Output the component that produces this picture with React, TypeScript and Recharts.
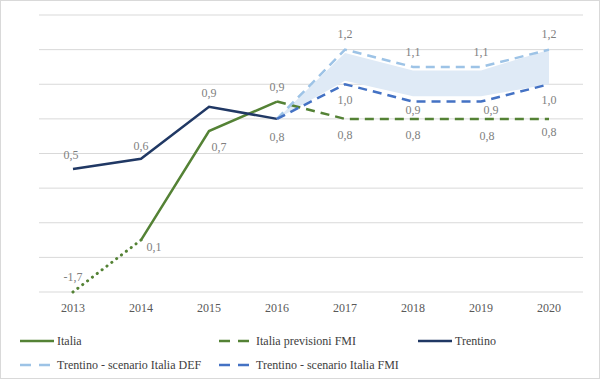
import React from 'react';
import { ComposedChart, Line, Area, XAxis, YAxis, CartesianGrid, LabelList } from 'recharts';

const years = ['2013', '2014', '2015', '2016', '2017', '2018', '2019', '2020'];
const italia = [null, 0.1, 0.73, 0.9, null, null, null, null];
const italiaStima = [-0.2, 0.1, null, null, null, null, null, null];
const italiaStimaLabels = ['-1,7', null, null, null, null, null, null, null];
const italiaFmi = [null, null, null, 0.9, 0.8, 0.8, 0.8, 0.8];
const trentino = [0.51, 0.57, 0.87, 0.8, null, null, null, null];
const trentinoDef = [null, null, null, 0.8, 1.2, 1.1, 1.1, 1.2];
const trentinoFmi = [null, null, null, 0.8, 1.0, 0.9, 0.9, 1.0];
const bandLow = [null, null, null, 0.8, 1.02, 0.93, 0.93, 1.0];
const bandHigh = [null, null, null, 0.8, 1.18, 1.08, 1.08, 1.2];
const yTicks = [-0.2, 0, 0.2, 0.4, 0.6, 0.8, 1.0, 1.2, 1.4];

const data = years.map((y, i) => ({
  year: y,
  italia: italia[i],
  italiaStima: italiaStima[i],
  italiaFmi: italiaFmi[i],
  trentino: trentino[i],
  trentinoDef: trentinoDef[i],
  trentinoFmi: trentinoFmi[i],
  band: bandLow[i] == null ? null : [bandLow[i], bandHigh[i]],
}));

const GREEN = '#548235';
const NAVY = '#203864';
const LIGHT = '#9dc3e6';
const MID = '#4472c4';
const FONT = '"Liberation Serif", "DejaVu Serif", serif';

type Off = [number, number] | null;

const makeLabel = (offsets: Off[], texts?: (string | null)[]) => (props: any) => {
  const { x, y, value, index } = props;
  if (value == null) return null;
  const off = offsets[index];
  if (!off) return null;
  const txt = texts ? texts[index] : Number(value).toFixed(1).replace('.', ',');
  if (!txt) return null;
  return (
    <text
      x={x + off[0]}
      y={y + off[1]}
      textAnchor="middle"
      dominantBaseline="central"
      fill="#7f7f7f"
      fontSize={12}
      fontFamily={FONT}
    >
      {txt}
    </text>
  );
};

const trentinoOff: Off[] = [[-2, -14], [0, -13], [0, -14], [0, 18], null, null, null, null];
const italiaOff: Off[] = [null, [13, 7], [10, 16], [0, -15], null, null, null, null];
const stimaOff: Off[] = [[0, -15], null, null, null, null, null, null, null];
const defOff: Off[] = [null, null, null, null, [0, -16], [0, -15], [0, -15], [0, -16]];
const fmiTOff: Off[] = [null, null, null, null, [0, 16], [0, 8], [10, 8], [0, 16]];
const fmiIOff: Off[] = [null, null, null, null, [0, 16], [0, 16], [6, 17], [0, 13]];

const legendItems = [
  { name: 'Italia', color: GREEN, dash: undefined, x: 20, y: 341 },
  { name: 'Italia previsioni FMI', color: GREEN, dash: '11 8', x: 219, y: 341 },
  { name: 'Trentino', color: NAVY, dash: undefined, x: 418, y: 341 },
  { name: 'Trentino - scenario Italia DEF', color: LIGHT, dash: '11 8', x: 20, y: 365 },
  { name: 'Trentino - scenario Italia FMI', color: MID, dash: '11 8', x: 219, y: 365 },
];

export default function App() {
  return (
    <div style={{ position: 'fixed', left: 0, top: 0, width: 600, height: 379, background: '#fff' }}>
      <div style={{ position: 'absolute', left: 0, top: 0 }}>
        <ComposedChart
          width={600}
          height={379}
          data={data}
          margin={{ top: 15, right: 17, bottom: 67, left: 39 }}
        >
          <CartesianGrid vertical={false} stroke="#d9d9d9" strokeWidth={1} />
          <XAxis
            dataKey="year"
            height={20}
            axisLine={false}
            tickLine={false}
            tickSize={6}
            tickMargin={5}
            padding={{ left: 34, right: 34 }}
            tick={{ fill: '#595959', fontSize: 12, fontFamily: FONT }}
            interval={0}
          />
          <YAxis hide domain={[-0.2, 1.4]} ticks={yTicks} type="number" />
          <Area
            dataKey="band"
            stroke="none"
            fill="#dfeaf6"
            fillOpacity={1}
            isAnimationActive={false}
            dot={false}
            activeDot={false}
          />
          <Line
            dataKey="italiaFmi"
            stroke={GREEN}
            strokeWidth={2.5}
            strokeDasharray="9 6"
            dot={false}
            activeDot={false}
            isAnimationActive={false}
          >
            <LabelList dataKey="italiaFmi" content={makeLabel(fmiIOff)} />
          </Line>
          <Line
            dataKey="italiaStima"
            stroke={GREEN}
            strokeWidth={3}
            strokeDasharray="0.1 6"
            strokeLinecap="round"
            dot={false}
            activeDot={false}
            isAnimationActive={false}
          >
            <LabelList dataKey="italiaStima" content={makeLabel(stimaOff, italiaStimaLabels)} />
          </Line>
          <Line
            dataKey="italia"
            stroke={GREEN}
            strokeWidth={2.5}
            dot={false}
            activeDot={false}
            isAnimationActive={false}
          >
            <LabelList dataKey="italia" content={makeLabel(italiaOff)} />
          </Line>
          <Line
            dataKey="trentino"
            stroke={NAVY}
            strokeWidth={2.5}
            dot={false}
            activeDot={false}
            isAnimationActive={false}
          >
            <LabelList dataKey="trentino" content={makeLabel(trentinoOff)} />
          </Line>
          <Line
            dataKey="trentinoDef"
            stroke={LIGHT}
            strokeWidth={2.5}
            strokeDasharray="9 6"
            dot={false}
            activeDot={false}
            isAnimationActive={false}
          >
            <LabelList dataKey="trentinoDef" content={makeLabel(defOff)} />
          </Line>
          <Line
            dataKey="trentinoFmi"
            stroke={MID}
            strokeWidth={2.5}
            strokeDasharray="9 6"
            dot={false}
            activeDot={false}
            isAnimationActive={false}
          >
            <LabelList dataKey="trentinoFmi" content={makeLabel(fmiTOff)} />
          </Line>
        </ComposedChart>
      </div>
      {legendItems.map((it) => (
        <div
          key={it.name}
          style={{
            position: 'absolute',
            left: it.x,
            top: it.y - 8,
            height: 16,
            display: 'flex',
            alignItems: 'center',
            fontFamily: FONT,
            fontSize: 12,
            color: '#404040',
            whiteSpace: 'nowrap',
          }}
        >
          <svg width={34} height={16} style={{ display: 'block', marginRight: 3 }}>
            <line
              x1={0}
              y1={8}
              x2={34}
              y2={8}
              stroke={it.color}
              strokeWidth={2.5}
              strokeDasharray={it.dash}
            />
          </svg>
          <span>{it.name}</span>
        </div>
      ))}
      <div
        style={{
          position: 'absolute',
          left: 0,
          top: 0,
          width: 600,
          height: 379,
          boxSizing: 'border-box',
          border: '1px solid #d9d9d9',
          pointerEvents: 'none',
        }}
      />
    </div>
  );
}
